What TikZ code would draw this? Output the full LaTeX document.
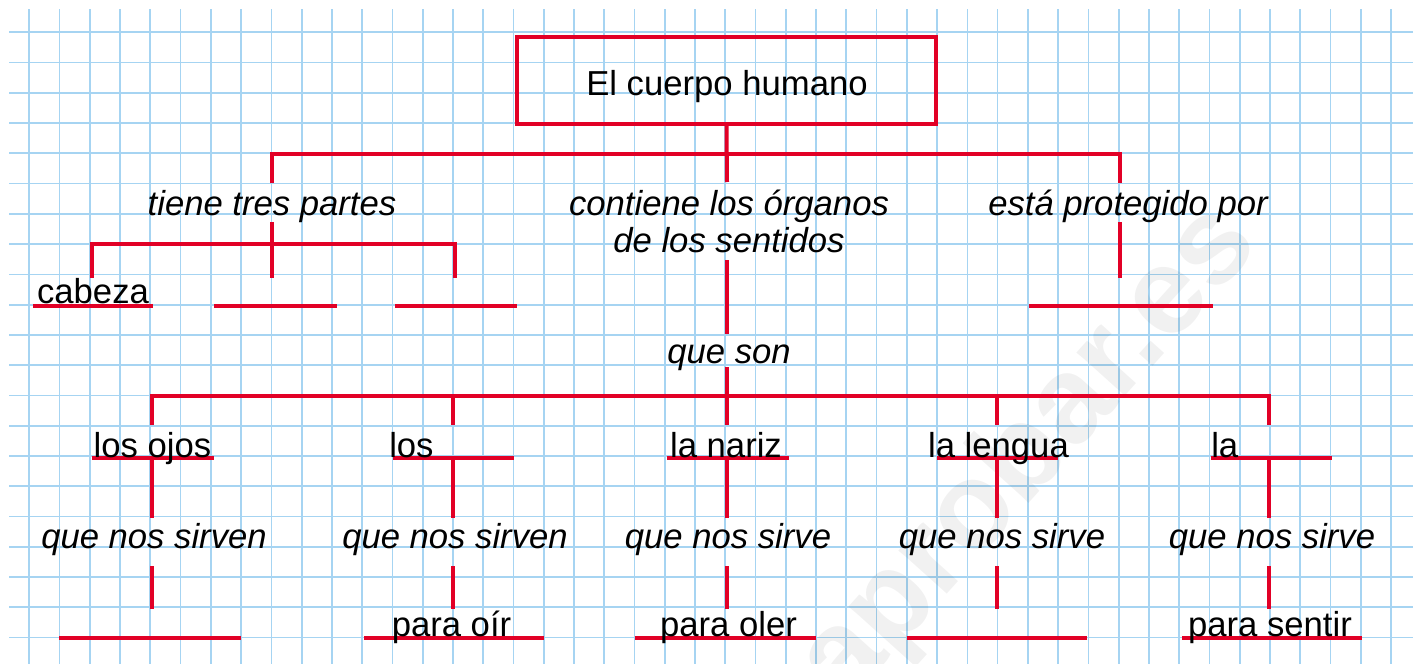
\documentclass[tikz,border=0pt]{standalone}
\usepackage{fontspec}
\setmainfont{Liberation Sans}
\definecolor{mapred}{RGB}{226,0,38}
\definecolor{gridblue}{RGB}{166,212,242}
\newcommand\lblfont{\fontsize{26}{31}\selectfont}
\tikzset{
  gridline/.style={draw=gridblue, line width=1.3pt},
  redline/.style={draw=mapred, line width=3pt},
  lbl/.style={font=\lblfont, inner sep=0pt, anchor=base, text=black},
  ilbl/.style={lbl, font=\lblfont\itshape},
  titlebox/.style={draw=mapred, line width=3pt, minimum width=314.25pt, minimum height=65.25pt, inner sep=0pt},
  mark/.style={}
}
\begin{document}
\begin{tikzpicture}[x=0.75pt,y=-0.75pt]
\useasboundingbox (0,0) rectangle (1421,664);
\fill[white] (0,0) rectangle (1421,664);
% grid paper
\foreach \k in {0,...,45} \draw[gridline] ({29.3+30.26*\k},9) -- ({29.3+30.26*\k},664);
\foreach \k in {0,...,20} \draw[gridline] (9,{32.3+30.26*\k}) -- (1413,{32.3+30.26*\k});
% watermark
\node[rotate=48, text=black, opacity=0.055, inner sep=0pt, font=\fontsize{92}{92}\selectfont\bfseries] (wm) at (1030,455) {aprobar.es};

% ---------- top part ----------
\node[titlebox] (box) at (726.5,80.5) {};
\node[lbl] (title) at (727,95) {El cuerpo humano};

\coordinate (stemB) at (727,182);
\coordinate (hL) at (272,154);
\coordinate (hR) at (1120,154);
\coordinate (hLd) at (272,183);
\coordinate (hRd) at (1120,183);
\draw[redline] (box.south) -- (stemB);
\draw[redline] (hLd) -- (hL) -- (hR) -- (hRd);

\node[ilbl] (tiene) at (272,215) {tiene tres partes};
\node[ilbl] (contiene) at (729,215) {contiene los órganos};
\node[ilbl] (sentidos) at (729,252) {de los sentidos};
\node[ilbl] (esta) at (1128,215) {está protegido por};

% tiene tres partes
\coordinate (tA) at (272,222);
\coordinate (tB) at (272,278);
\coordinate (pL) at (92,244);
\coordinate (pR) at (455,244);
\coordinate (pLd) at (92,278);
\coordinate (pRd) at (455,278);
\draw[redline] (tA) -- (tB);
\draw[redline] (pLd) -- (pL) -- (pR) -- (pRd);
\coordinate (u1a) at (33,306);  \coordinate (u1b) at (153,306);
\coordinate (u2a) at (214,306); \coordinate (u2b) at (337,306);
\coordinate (u3a) at (395,306); \coordinate (u3b) at (517,306);
\draw[redline] (u1a) -- (u1b);
\draw[redline] (u2a) -- (u2b);
\draw[redline] (u3a) -- (u3b);
\node[lbl] (cabeza) at (93,303) {cabeza};

% está protegido por
\coordinate (eA) at (1120,222);
\coordinate (eB) at (1120,278);
\coordinate (u4a) at (1029,306); \coordinate (u4b) at (1213,306);
\draw[redline] (eA) -- (eB);
\draw[redline] (u4a) -- (u4b);

% contiene ... que son
\coordinate (cA) at (727,260);
\coordinate (cB) at (727,334);
\coordinate (cC) at (727,367);
\coordinate (cD) at (727,425);
\draw[redline] (cA) -- (cB);
\draw[redline] (cC) -- (cD);
\node[ilbl] (queson) at (729,363) {que son};

% ---------- senses ----------
\coordinate (sL) at (152,396);
\coordinate (sR) at (1269,396);
\coordinate (sLd) at (152,425);
\coordinate (sRd) at (1269,425);
\draw[redline] (sLd) -- (sL) -- (sR) -- (sRd);
\coordinate (d2a) at (453,396); \coordinate (d2b) at (453,425);
\coordinate (d4a) at (997,396); \coordinate (d4b) at (997,425);
\draw[redline] (d2a) -- (d2b);
\draw[redline] (d4a) -- (d4b);

% per column: underline, links, bottom line
\foreach \n/\x/\ua/\ub/\ba/\bb in {1/152/92/214/59/241, 2/453/393/514/364/544, 3/727/667/789/635/816, 4/997/937/1058/907/1087, 5/1269/1211/1332/1182/1362}{
  \coordinate (r\n a) at (\ua,458);
  \coordinate (r\n b) at (\ub,458);
  \coordinate (v\n a) at (\x,460);
  \coordinate (v\n b) at (\x,518);
  \coordinate (w\n a) at (\x,566);
  \coordinate (w\n b) at (\x,609);
  \coordinate (b\n a) at (\ba,638);
  \coordinate (b\n b) at (\bb,638);
  \draw[redline] (r\n a) -- (r\n b);
  \draw[redline] (v\n a) -- (v\n b);
  \draw[redline] (w\n a) -- (w\n b);
  \draw[redline] (b\n a) -- (b\n b);
}

\node[lbl] (ojos) at (152.5,457) {los ojos};
\node[lbl, anchor=base west] (los) at (389,457) {los};
\node[lbl] (nariz) at (726,457) {la nariz};
\node[lbl] (lengua) at (998.5,457) {la lengua};
\node[lbl, anchor=base west] (la) at (1211,457) {la};

\node[ilbl] (q1) at (154,548) {que nos sirven};
\node[ilbl] (q2) at (455,548) {que nos sirven};
\node[ilbl] (q3) at (728,548) {que nos sirve};
\node[ilbl] (q4) at (1002,548) {que nos sirve};
\node[ilbl] (q5) at (1272,548) {que nos sirve};

\node[lbl] (oir) at (451.5,636) {para oír};
\node[lbl] (oler) at (728.5,636) {para oler};
\node[lbl] (sentir) at (1270,636) {para sentir};
\end{tikzpicture}
\end{document}
